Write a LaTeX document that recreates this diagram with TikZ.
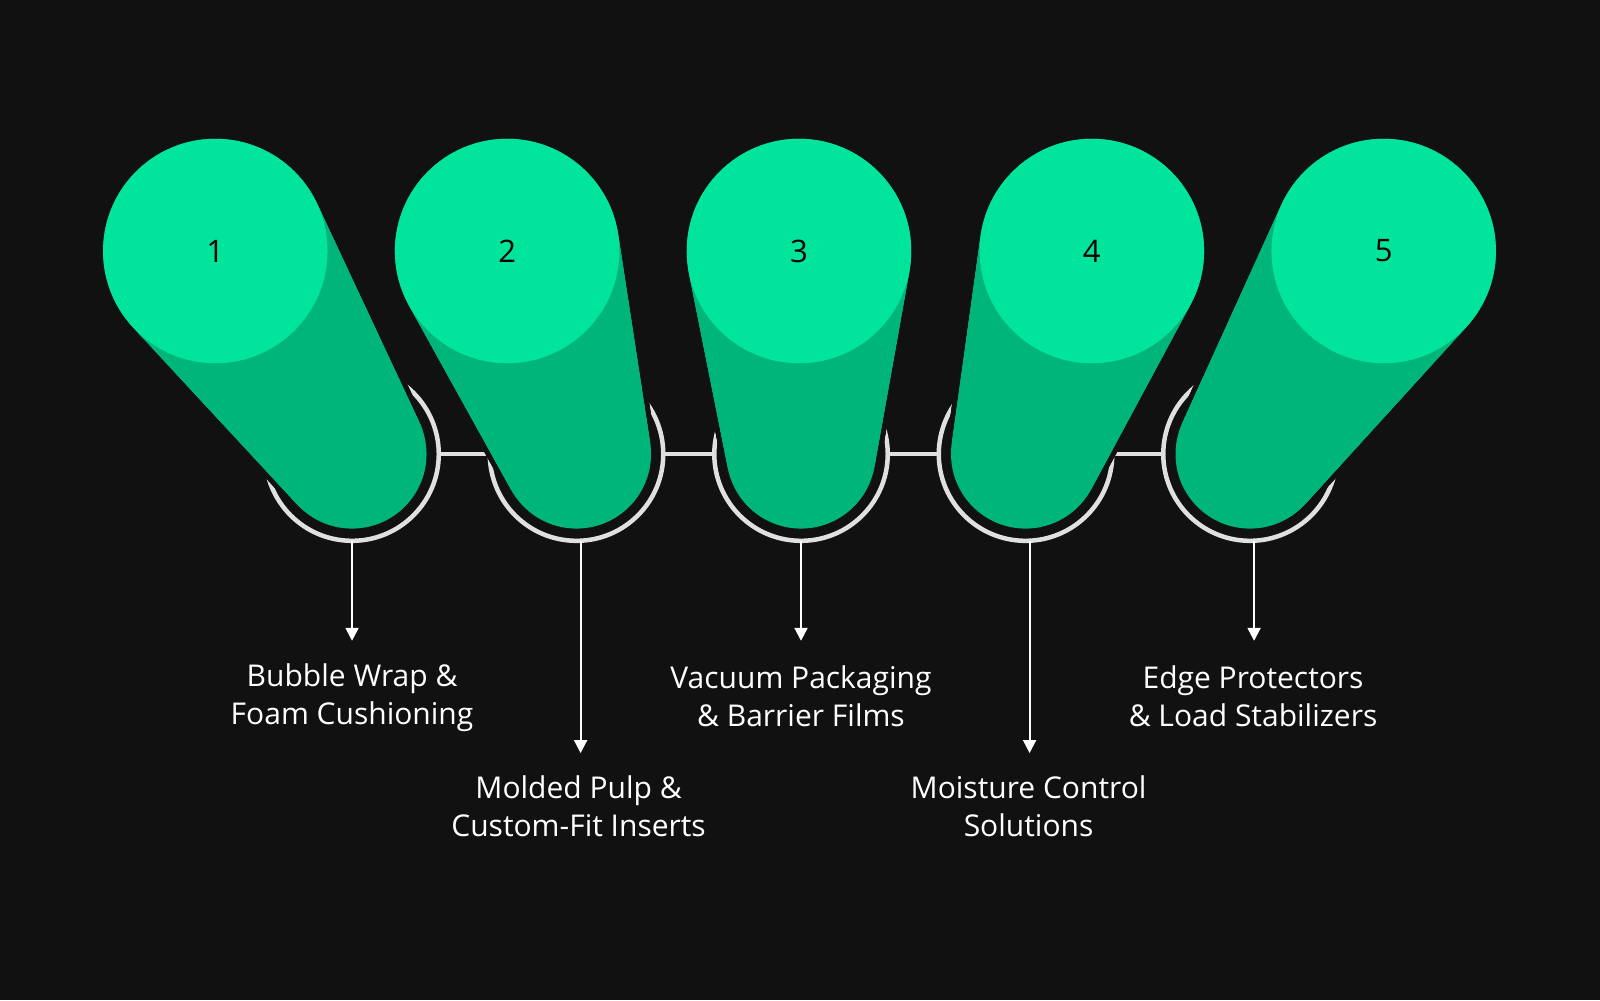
\documentclass[tikz,border=0pt]{standalone}
\usepackage{fontspec}
\setmainfont{Open Sans}
\usetikzlibrary{arrows.meta,calc}
\definecolor{bg}{HTML}{111111}
\definecolor{gtop}{HTML}{00E59B}
\definecolor{gbody}{HTML}{00B57A}
\tikzset{
 ring/.style={draw=white!88!black,line width=4.5pt,fill=bg},
 link/.style={draw=white!88!black,line width=4pt},
 arr/.style={draw=white,line width=2pt,-{Triangle[length=13pt,width=13pt]}},
 lab/.style={text=white,font=\fontsize{30}{38}\selectfont,align=center},
 num/.style={text=black,font=\fontsize{31}{36}\selectfont},
}
\begin{document}
\begin{tikzpicture}[x=1.0204pt,y=-1.0204pt]
\fill[bg] (0,0) rectangle (1568,980);
\useasboundingbox (0,0) rectangle (1568,980);
\foreach \n/\x in {1/345,2/565,3/785,4/1005,5/1225}{
  \coordinate (r\n) at (\x,445);
}
\draw[link] (r1) -- (r5);
\foreach \n in {1,...,5}{
  \draw[ring] (r\n) circle (85);
}
\foreach \n/\tx/\bx in {1/211/345,2/497/565,3/783/785,4/1070/1005,5/1356/1225}{
  \foreach \i in {0,...,60}{
    \pgfmathsetmacro\cx{\tx+(\bx-\tx)*\i/60}
    \pgfmathsetmacro\cy{246+(445-246)*\i/60}
    \pgfmathsetmacro\rr{110+(73-110)*\i/60}
    \fill[bg] (\cx,\cy) circle ({\rr+5});
  }
  \foreach \i in {0,...,60}{
    \pgfmathsetmacro\cx{\tx+(\bx-\tx)*\i/60}
    \pgfmathsetmacro\cy{246+(445-246)*\i/60}
    \pgfmathsetmacro\rr{110+(73-110)*\i/60}
    \fill[gbody] (\cx,\cy) circle (\rr);
  }
  \fill[gtop] (\tx,246) circle (110);
  \node[num] (n\n) at (\tx,246) {\n};
}
\coordinate (a1) at (345,628);
\coordinate (a2) at (569,738);
\coordinate (a3) at (785,628);
\coordinate (a4) at (1009,738);
\coordinate (a5) at (1229,628);
\coordinate (s1) at (345,530);
\coordinate (s2) at (569,530);
\coordinate (s3) at (785,530);
\coordinate (s4) at (1009,530);
\coordinate (s5) at (1229,530);
\foreach \n in {1,...,5}{ \draw[arr] (s\n) -- (a\n); }
\node[lab] (l1) at (345,684) {Bubble Wrap \&\\Foam Cushioning};
\node[lab] (l2) at (567,790) {Molded Pulp \&\\Custom-Fit Inserts};
\node[lab] (l3) at (785,682) {Vacuum Packaging\\\& Barrier Films};
\node[lab] (l4) at (1008,790) {Moisture Control\\Solutions};
\node[lab] (l5) at (1228,682) {Edge Protectors\\\& Load Stabilizers};
\end{tikzpicture}
\end{document}
